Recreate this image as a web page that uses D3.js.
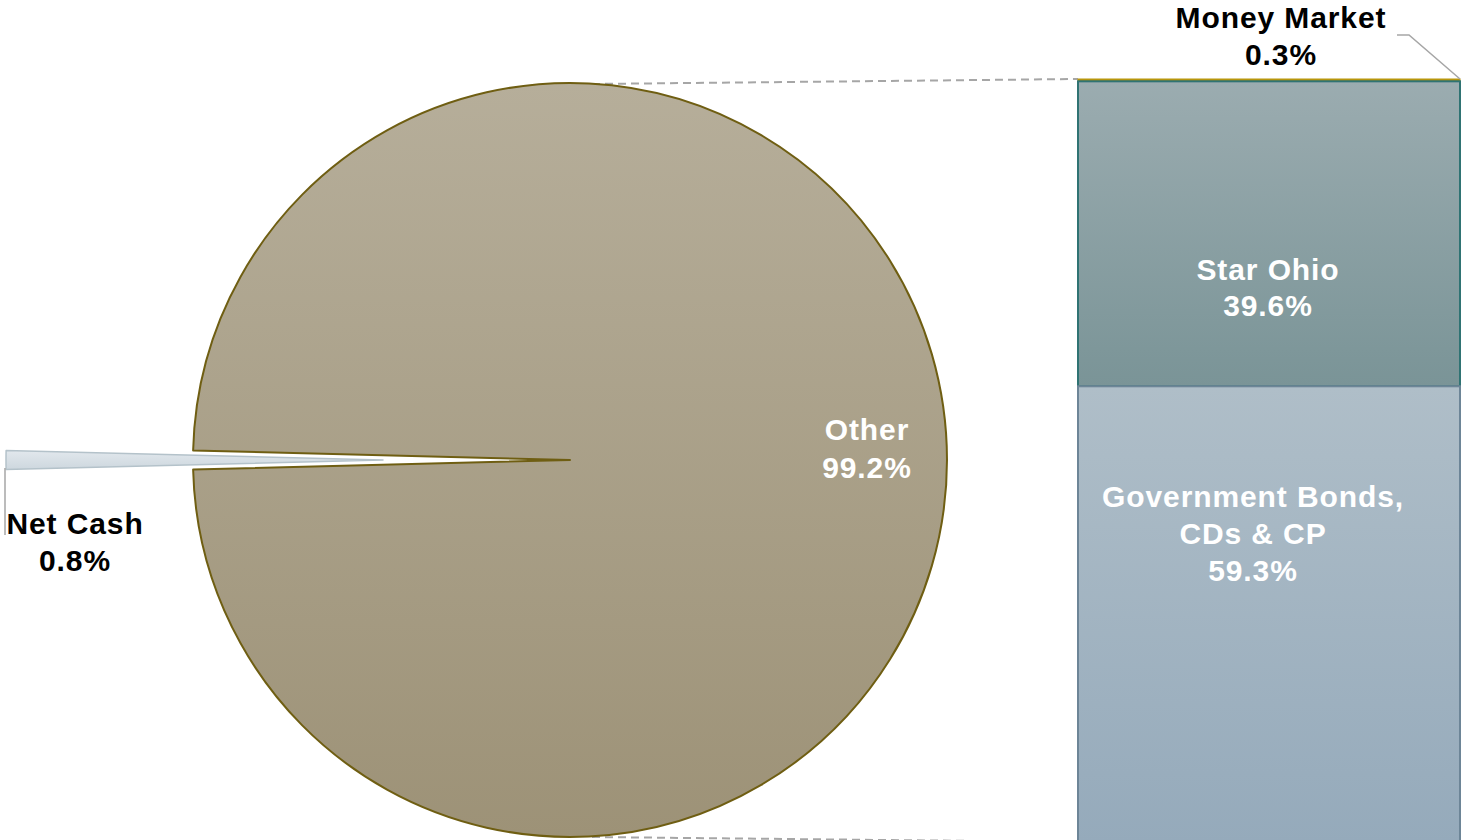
<!DOCTYPE html>
<html><head><meta charset="utf-8">
<script src="https://cdn.jsdelivr.net/npm/d3@7"></script>
<style>html,body{margin:0;padding:0;background:#fff;overflow:hidden}svg{display:block}text{font-family:"Liberation Sans",Arial,sans-serif;font-weight:bold}</style>
</head><body>
<svg id="c" width="1461" height="840"></svg>
<script>
const pieCategories = ["Net Cash", "Other"];
const pieValues = [0.8, 99.2];
const barCategories = ["Money Market", "Star Ohio", "Government Bonds, CDs & CP"];
const barValues = [0.3, 39.6, 59.3];
const pieLabels = [["Net Cash", "0.8%"], ["Other", "99.2%"]];
const barLabels = [["Money Market", "0.3%"], ["Star Ohio", "39.6%"], ["Government Bonds,", "CDs & CP", "59.3%"]];

const svg = d3.select("#c");
const defs = svg.append("defs");
function grad(id, c1, c2) {
  const g = defs.append("linearGradient").attr("id", id).attr("x1", 0).attr("y1", 0).attr("x2", 0).attr("y2", 1);
  g.append("stop").attr("offset", "0%").attr("stop-color", c1);
  g.append("stop").attr("offset", "100%").attr("stop-color", c2);
}
grad("gOther", "#b6ae9a", "#9d9277");
grad("gCash", "#e2e8ed", "#cdd7de");
grad("gMM", "#b8960c", "#b8960c");
grad("gStar", "#9bacb0", "#7a9497");
grad("gGov", "#afbec8", "#95aabb");

const cx = 570, cy = 460, R = 377;
const span = 2 * Math.PI * pieValues[0] / d3.sum(pieValues);
const pie = d3.pie().sort(null).startAngle(-Math.PI / 2 - span / 2).endAngle(3 * Math.PI / 2 - span / 2);
const arcs = pie(pieValues);
const arc = d3.arc().innerRadius(0).outerRadius(R);
const explode = 187;

const bx0 = 1078, bx1 = 1460;
const y = d3.scaleLinear().domain([0, d3.sum(barValues)]).range([79, 79 + 764]);
svg.append("line").attr("x1", 592).attr("y1", 84).attr("x2", bx0).attr("y2", y(0))
  .attr("stroke", "#a6a6a6").attr("stroke-width", 2).attr("stroke-dasharray", "8,5");
svg.append("line").attr("x1", 592).attr("y1", 837).attr("x2", bx0).attr("y2", 842)
  .attr("stroke", "#a6a6a6").attr("stroke-width", 2).attr("stroke-dasharray", "8,5");

const pg = svg.append("g").attr("transform", `translate(${cx},${cy})`);
const fills = ["url(#gCash)", "url(#gOther)"];
const strokes = ["#b4c2ca", "#6f5e12"];
pg.selectAll("path.s").data(arcs).join("path")
  .attr("class", "s")
  .attr("d", arc)
  .attr("fill", (d, i) => fills[i])
  .attr("stroke", (d, i) => strokes[i])
  .attr("stroke-width", (d, i) => i === 0 ? 1.5 : 2)
  .attr("stroke-linejoin", "round")
  .attr("transform", (d, i) => {
    if (i !== 0) return null;
    const m = (d.startAngle + d.endAngle) / 2;
    return `translate(${Math.sin(m) * explode},${-Math.cos(m) * explode})`;
  });

svg.append("line").attr("x1", 5).attr("y1", 468).attr("x2", 5).attr("y2", 535)
  .attr("stroke", "#a6a6a6").attr("stroke-width", 1.5);

function label(lines, x, y0, color, dy) {
  const t = svg.append("text").attr("text-anchor", "middle").attr("fill", color)
    .attr("font-size", 30).attr("letter-spacing", "0.9px");
  lines.forEach((s, i) => t.append("tspan").attr("x", x).attr("y", y0 + i * dy).text(s));
}
label(pieLabels[0], 75, 534, "#000", 37);
label(pieLabels[1], 867, 440, "#fff", 38);

let acc = 0;
const stacks = barValues.map(v => { const s = { y0: acc, y1: acc + v }; acc += v; return s; });
const barFills = ["url(#gMM)", "url(#gStar)", "url(#gGov)"];
const barStrokes = ["#b8960c", "#2f7373", "#6d8597"];
svg.selectAll("rect.b").data(stacks).join("rect")
  .attr("class", "b")
  .attr("x", bx0).attr("width", bx1 - bx0)
  .attr("y", d => y(d.y0)).attr("height", d => y(d.y1) - y(d.y0))
  .attr("fill", (d, i) => barFills[i])
  .attr("stroke", (d, i) => barStrokes[i])
  .attr("stroke-width", (d, i) => i === 0 ? 1 : 2);

svg.append("polyline").attr("points", `1397,35 1409,35 ${bx1},${y(0)}`)
  .attr("fill", "none").attr("stroke", "#a6a6a6").attr("stroke-width", 1.5);

label(barLabels[0], 1281, 28, "#000", 37);
label(barLabels[1], 1268, 280, "#fff", 36);
label(barLabels[2], 1253, 507, "#fff", 37);
</script>
</body></html>
